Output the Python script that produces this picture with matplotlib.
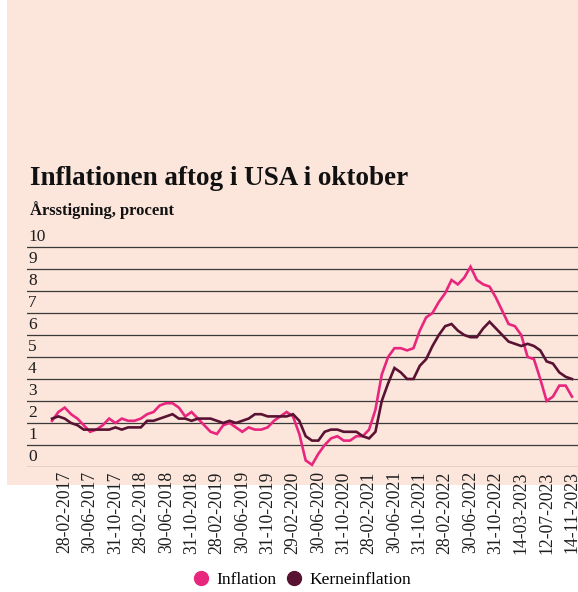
import matplotlib
matplotlib.use("Agg")
import matplotlib.pyplot as plt
import matplotlib.transforms as mtransforms
from matplotlib.lines import Line2D
from matplotlib.patches import Rectangle
import pandas as pd

# Monthly categories Dec 2016 .. Oct 2023
months = pd.date_range("2016-12-01", "2023-10-01", freq="MS")

inflation = [
    2.1,
    2.5, 2.7, 2.4, 2.2, 1.9, 1.6, 1.7, 1.9, 2.2, 2.0, 2.2, 2.1,
    2.1, 2.2, 2.4, 2.5, 2.8, 2.9, 2.9, 2.7, 2.3, 2.5, 2.2, 1.9,
    1.6, 1.5, 1.9, 2.0, 1.8, 1.6, 1.8, 1.7, 1.7, 1.8, 2.1, 2.3,
    2.5, 2.3, 1.5, 0.3, 0.1, 0.6, 1.0, 1.3, 1.4, 1.2, 1.2, 1.4,
    1.4, 1.7, 2.6, 4.2, 5.0, 5.4, 5.4, 5.3, 5.4, 6.2, 6.8, 7.0,
    7.5, 7.9, 8.5, 8.3, 8.6, 9.1, 8.5, 8.3, 8.2, 7.7, 7.1, 6.5,
    6.4, 6.0, 5.0, 4.9, 4.0, 3.0, 3.2, 3.7, 3.7, 3.2,
]
kerneinflation = [
    2.2,
    2.3, 2.2, 2.0, 1.9, 1.7, 1.7, 1.7, 1.7, 1.7, 1.8, 1.7, 1.8,
    1.8, 1.8, 2.1, 2.1, 2.2, 2.3, 2.4, 2.2, 2.2, 2.1, 2.2, 2.2,
    2.2, 2.1, 2.0, 2.1, 2.0, 2.1, 2.2, 2.4, 2.4, 2.3, 2.3, 2.3,
    2.3, 2.4, 2.1, 1.4, 1.2, 1.2, 1.6, 1.7, 1.7, 1.6, 1.6, 1.6,
    1.4, 1.3, 1.6, 3.0, 3.8, 4.5, 4.3, 4.0, 4.0, 4.6, 4.9, 5.5,
    6.0, 6.4, 6.5, 6.2, 6.0, 5.9, 5.9, 6.3, 6.6, 6.3, 6.0, 5.7,
    5.6, 5.5, 5.6, 5.5, 5.3, 4.8, 4.7, 4.3, 4.1, 4.0,
]
tick_labels = [
    "28-02-2017", "30-06-2017", "31-10-2017", "28-02-2018", "30-06-2018",
    "31-10-2018", "28-02-2019", "30-06-2019", "31-10-2019", "29-02-2020",
    "30-06-2020", "31-10-2020", "28-02-2021", "30-06-2021", "31-10-2021",
    "28-02-2022", "30-06-2022", "31-10-2022", "14-03-2023", "12-07-2023",
    "14-11-2023",
]
y_values = list(range(0, 11))

PINK = "#e8267e"
DARK = "#5a1233"
BG = "#fce5db"
TXT = "#1e1e1e"
SERIF = ["Liberation Serif", "DejaVu Serif"]

fig = plt.figure(figsize=(5.78, 5.92), dpi=100, facecolor="white")
fig.patches.append(Rectangle((7 / 578, 107 / 592), 1 - 7 / 578, 1 - 107 / 592,
                             transform=fig.transFigure, facecolor=BG,
                             edgecolor="none", zorder=-10))

ax = fig.add_axes([27 / 578, 125 / 592, 551 / 578, 242 / 592])
ax.set_zorder(5)
ax.set_facecolor("none")
x = list(range(len(months)))
ax.plot(x, inflation, color=PINK, lw=1.9, zorder=3, solid_joinstyle="miter")
ax.plot(x, kerneinflation, color=DARK, lw=1.9, zorder=4, solid_joinstyle="miter")

ax.set_xlim(-3.95, 82.95)
ax.set_ylim(0, 11)
for v in y_values:
    ax.axhline(v, color="#3a3a3a", lw=0.9, zorder=1)
trans = mtransforms.blended_transform_factory(ax.transAxes, ax.transData)
for v in y_values:
    ax.text(0.002, v + 0.47, str(v), transform=trans, ha="left", va="center",
            fontsize=12.5, family=SERIF, color=TXT)

ax.set_yticks([])
tick_pos = list(range(2, len(months), 4))
ax.set_xticks(tick_pos)
ax.set_xticklabels(tick_labels, rotation=90, fontsize=12.7, family=SERIF, color=TXT)
ax.tick_params(axis="x", length=0, pad=3)
for s in ax.spines.values():
    s.set_visible(False)

fig.text(30 / 578, 1 - 185 / 592, "Inflationen aftog i USA i oktober",
         fontsize=19.5, fontweight="bold", family=SERIF, color="#111111",
         va="baseline", ha="left")
fig.text(30 / 578, 1 - 215 / 592, "Årsstigning, procent",
         fontsize=12, fontweight="bold", family=SERIF, color="#111111",
         va="baseline", ha="left")

handles = [
    Line2D([], [], ls="none", marker="o", markersize=10, color=PINK, label="Inflation"),
    Line2D([], [], ls="none", marker="o", markersize=10, color=DARK, label="Kerneinflation"),
]
fig.legend(handles=handles, loc="center", bbox_to_anchor=(0.52, 12 / 592),
           ncol=2, frameon=False, prop={"family": SERIF, "size": 12.5},
           handletextpad=0.3, columnspacing=0.4, handlelength=1.2)

fig.savefig("out.png", dpi=100, facecolor="white")
